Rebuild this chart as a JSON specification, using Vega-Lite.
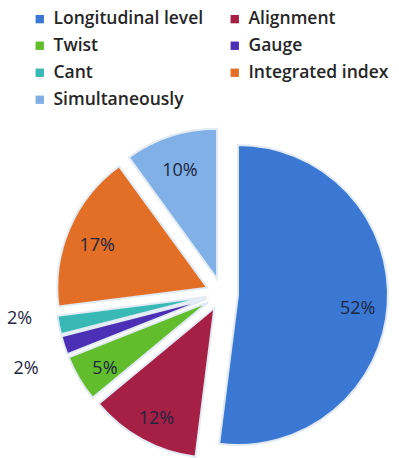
{
  "$schema": "https://vega.github.io/schema/vega-lite/v6.json",
  "autosize": {"type": "none"},
  "width": 300,
  "height": 300,
  "padding": {"left": 72, "top": 144, "right": 27, "bottom": 14},
  "background": "white",
  "data": {
    "values": [
      {"category": "Longitudinal level", "value": 52},
      {"category": "Alignment", "value": 12},
      {"category": "Twist", "value": 5},
      {"category": "Gauge", "value": 2},
      {"category": "Cant", "value": 2},
      {"category": "Integrated index", "value": 17},
      {"category": "Simultaneously", "value": 10}
    ]
  },
  "transform": [
    {"window": [{"op": "row_number", "as": "idx"}]}
  ],
  "encoding": {
    "theta": {"field": "value", "type": "quantitative", "stack": true},
    "order": {"field": "idx", "type": "quantitative"},
    "color": {
      "field": "category",
      "type": "nominal",
      "sort": null,
      "scale": {
        "domain": ["Longitudinal level", "Alignment", "Twist", "Gauge", "Cant", "Integrated index", "Simultaneously"],
        "range": ["#3a78d4", "#a61f44", "#62bd2d", "#4b2fb5", "#39b9b5", "#e36f26", "#80b0e6"]
      },
      "legend": {
        "title": null,
        "orient": "none",
        "direction": "horizontal",
        "legendX": -41,
        "legendY": -134,
        "columns": 2,
        "columnPadding": 22,
        "rowPadding": 8,
        "symbolType": "square",
        "symbolSize": 70,
        "symbolStrokeWidth": 0,
        "labelFont": "Open Sans",
        "labelFontSize": 17.5,
        "labelFontWeight": 600,
        "labelColor": "#262626",
        "labelOffset": 5,
        "labelLimit": 300
      }
    }
  },
  "layer": [
    {
      "mark": {
        "type": "arc",
        "stroke": "#e2ebf4",
        "strokeWidth": 2,
        "xOffset": {"expr": "16*sin(scale('theta', (datum.value_start + datum.value_end) / 2))"},
        "yOffset": {"expr": "-16*cos(scale('theta', (datum.value_start + datum.value_end) / 2))"}
      }
    },
    {
      "mark": {
        "type": "text",
        "font": "Open Sans",
        "fontSize": 18,
        "fontWeight": 500,
        "color": "#1e2640",
        "text": {"expr": "datum.value + '%'"},
        "radius": {"expr": "datum.value < 3 ? 190 : 120"},
        "dy": {"expr": "datum.category == 'Cant' ? -14 : datum.category == 'Gauge' ? 11 : 6"},
        "xOffset": {"expr": "16*sin(scale('theta', (datum.value_start + datum.value_end) / 2))"},
        "yOffset": {"expr": "-16*cos(scale('theta', (datum.value_start + datum.value_end) / 2))"}
      },
      "encoding": {
        "color": {"value": "#1e2640"}
      }
    }
  ]
}
